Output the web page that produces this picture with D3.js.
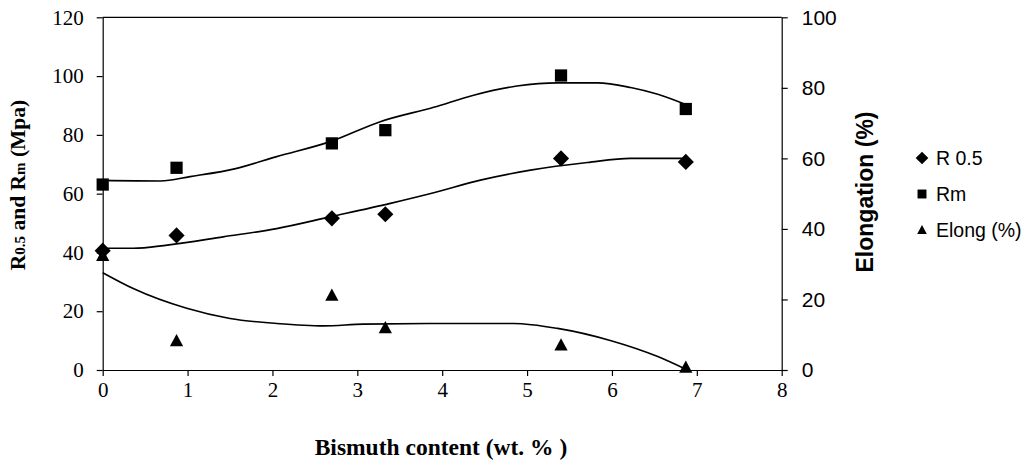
<!DOCTYPE html>
<html><head><meta charset="utf-8">
<script src="https://cdn.jsdelivr.net/npm/d3@7"></script>
<style>body{margin:0;background:#fff}svg{display:block}</style>
</head><body>
<svg id="c" width="1026" height="465"></svg>
<script>
// ---- data ----
const bismuth = [0, 0.87, 2.7, 3.33, 5.4, 6.87];
const r05 = [40.6, 45.8, 51.6, 53.0, 72.0, 70.8];
const rm = [63.1, 68.8, 77.1, 81.6, 100.2, 88.8];
const elong = [32.5, 8.3, 21.2, 12.0, 7.1, 0.8];

// trend lines
const rmTrendX = [0, 0.68, 1.03, 1.58, 2.05, 2.68, 3.27, 3.9, 4.37, 4.88, 5.36, 5.83, 6.22, 6.54, 6.87];
const rmTrendY = [64.5, 64.3, 65.8, 68.6, 72.6, 77.7, 84.5, 89.4, 93.5, 96.6, 97.7, 97.7, 96.1, 93.8, 90.3];
const r05TrendX = [0, 0.36, 0.76, 1.42, 2.05, 2.68, 3.39, 3.9, 4.45, 5.04, 5.71, 6.22, 6.87];
const r05TrendY = [41.4, 41.4, 42.5, 45.3, 48.1, 52.1, 56.7, 60.3, 64.6, 68.0, 70.6, 72.0, 72.0];
const elTrendX = [0, 0.36, 0.99, 1.5, 2.05, 2.6, 3.07, 3.98, 4.84, 5.36, 5.99, 6.54, 6.87];
const elTrendY = [27.6, 23.1, 17.5, 14.6, 13.2, 12.5, 13.0, 13.2, 13.2, 11.8, 8.3, 3.8, 0.2];

const xTicks = [0, 1, 2, 3, 4, 5, 6, 7, 8];
const yLeftTicks = [0, 20, 40, 60, 80, 100, 120];
const yRightTicks = [0, 20, 40, 60, 80, 100];
const legendLabels = ["R 0.5", "Rm", "Elong (%)"];

// ---- layout ----
const L = 102.7, R = 781.7, T = 17.3, B = 370;
const svg = d3.select("#c");
const x = d3.scaleLinear().domain([0, 8]).range([L, R]);
const yL = d3.scaleLinear().domain([0, 120]).range([B, T]);
const yR = d3.scaleLinear().domain([0, 100]).range([B, T]);

const serif = "'Liberation Serif','Times New Roman',serif";
const sans = "'Liberation Sans',Arial,sans-serif";

// frame top line
svg.append("line").attr("x1", L).attr("x2", R).attr("y1", T).attr("y2", T)
  .attr("stroke", "#000").attr("stroke-width", 1.2);

function styleAxis(g, font, size) {
  g.select(".domain").attr("stroke", "#000").attr("stroke-width", 1.2);
  g.selectAll(".tick line").attr("stroke", "#000").attr("stroke-width", 1.2);
  g.selectAll(".tick text").attr("font-family", font).attr("font-size", size).attr("fill", "#000");
}

const gx = svg.append("g").attr("transform", `translate(0,${B})`)
  .call(d3.axisBottom(x).tickValues(xTicks).tickSize(6).tickSizeOuter(0).tickPadding(6).tickFormat(d3.format("d")));
styleAxis(gx, serif, 21);

const gl = svg.append("g").attr("transform", `translate(${L},0)`)
  .call(d3.axisLeft(yL).tickValues(yLeftTicks).tickSize(6).tickSizeOuter(0).tickPadding(13).tickFormat(d3.format("d")));
styleAxis(gl, serif, 21);

const gr = svg.append("g").attr("transform", `translate(${R},0)`)
  .call(d3.axisRight(yR).tickValues(yRightTicks).tickSize(6).tickSizeOuter(0).tickPadding(14).tickFormat(d3.format("d")));
styleAxis(gr, sans, 21);

// trend lines
const line = (sy) => d3.line().x(d => x(d[0])).y(d => sy(d[1])).curve(d3.curveMonotoneX);
function trend(xs, ys, sy) {
  svg.append("path").datum(xs.map((v, i) => [v, ys[i]]))
    .attr("d", line(sy)).attr("fill", "none").attr("stroke", "#000").attr("stroke-width", 1.6);
}
trend(rmTrendX, rmTrendY, yL);
trend(r05TrendX, r05TrendY, yL);
trend(elTrendX, elTrendY, yR);

// symbols
const diamondType = { draw(ctx, size) { const r = Math.sqrt(size / 2); ctx.moveTo(0, -r); ctx.lineTo(r, 0); ctx.lineTo(0, r); ctx.lineTo(-r, 0); ctx.closePath(); } };
const squareType = d3.symbolSquare;
const triType = { draw(ctx, size) { const w = Math.sqrt(size) * 1.08, h = Math.sqrt(size); ctx.moveTo(0, -h * 0.55); ctx.lineTo(w / 2, h * 0.45); ctx.lineTo(-w / 2, h * 0.45); ctx.closePath(); } };

function pts(vals, sy, type, size) {
  svg.append("g").selectAll("path").data(vals).join("path")
    .attr("transform", (d, i) => `translate(${x(bismuth[i])},${sy(d)})`)
    .attr("d", d3.symbol().type(type).size(size)).attr("fill", "#000");
}
pts(r05, yL, diamondType, 130);
pts(rm, yL, squareType, 150);
pts(elong, yR, triType, 150);

// axis titles
const lt = svg.append("text").attr("transform", `translate(25,185) rotate(-90)`)
  .attr("text-anchor", "middle").attr("font-family", serif).attr("font-weight", "bold").attr("font-size", 21.5).attr("fill", "#000");
lt.append("tspan").text("R");
lt.append("tspan").attr("font-size", 15).text("0.5");
lt.append("tspan").text(" and R");
lt.append("tspan").attr("font-size", 15).text("m");
lt.append("tspan").text(" (Mpa)");

svg.append("text").attr("transform", `translate(873,192) rotate(-90)`)
  .attr("text-anchor", "middle").attr("font-family", sans).attr("font-weight", "bold").attr("font-size", 23).attr("fill", "#000")
  .text("Elongation (%)");

svg.append("text").attr("x", 441).attr("y", 455).attr("text-anchor", "middle")
  .attr("font-family", serif).attr("font-weight", "bold").attr("font-size", 23.5).attr("fill", "#000")
  .text("Bismuth content (wt. % )");

// legend
const legTypes = [diamondType, squareType, triType];
const legY = [158, 194, 230];
const lg = svg.append("g");
legendLabels.forEach((lab, i) => {
  lg.append("path").attr("transform", `translate(922,${legY[i]})`)
    .attr("d", d3.symbol().type(legTypes[i]).size(80)).attr("fill", "#000");
  lg.append("text").attr("x", 936).attr("y", legY[i]).attr("dy", "0.35em")
    .attr("font-family", sans).attr("font-size", 19.5).attr("fill", "#000").text(lab);
});
</script>
</body></html>
